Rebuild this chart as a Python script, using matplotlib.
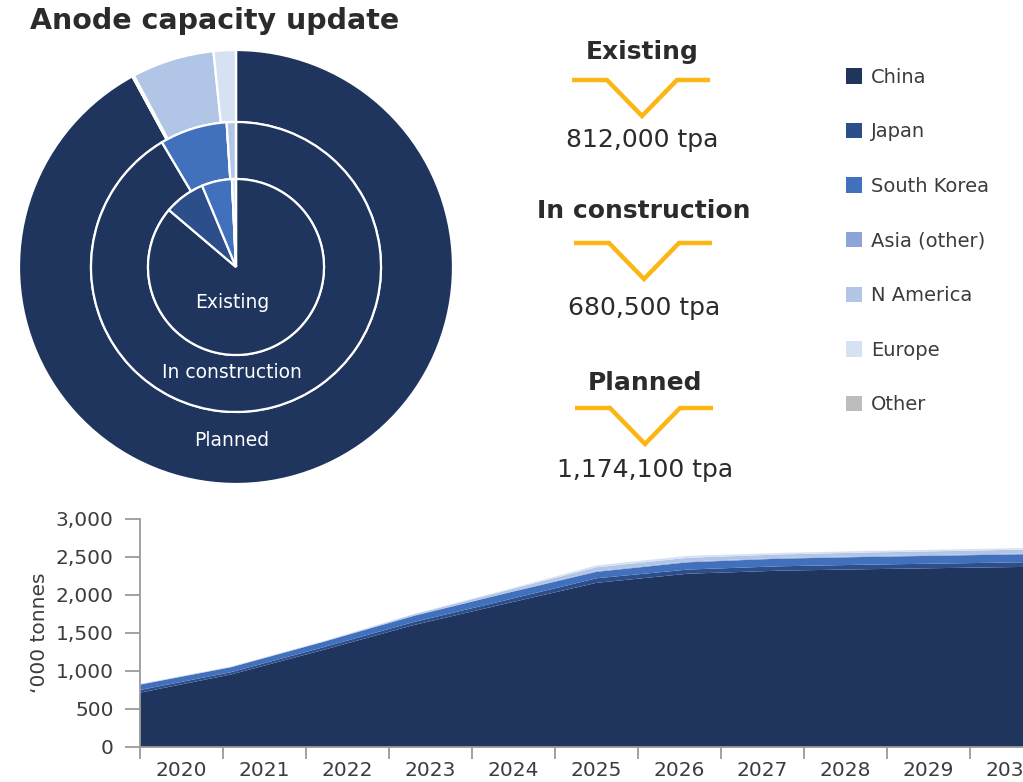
import numpy as np
import matplotlib
matplotlib.use("Agg")
import matplotlib.pyplot as plt
from matplotlib.patches import Patch
from matplotlib.ticker import FuncFormatter

plt.rcParams['font.family'] = ['DejaVu Sans']

# data
regions = ["China", "Japan", "South Korea", "Asia (other)", "N America", "Europe", "Other"]
colors = ["#1f355e", "#2c4f8c", "#4170bd", "#8ea4d8", "#b1c6e6", "#d6e2f4", "#bdbdbd"]

existing = [700000, 61000, 45000, 0, 0, 6000, 0]
in_construction = [622500, 0, 51000, 0, 7000, 0, 0]
planned = [1081100, 0, 0, 1500, 72000, 19500, 0]

stage_names = ["Existing", "In construction", "Planned"]
stage_totals = ["812,000 tpa", "680,500 tpa", "1,174,100 tpa"]

years = ["2020", "2021", "2022", "2023", "2024", "2025", "2026", "2027", "2028", "2029", "2030"]
# '000 tonnes
china = [715, 955, 1275, 1605, 1885, 2160, 2280, 2320, 2340, 2358, 2375]
japan = [35, 30, 35, 40, 45, 60, 55, 58, 60, 60, 62]
south_korea = [70, 65, 70, 80, 90, 85, 95, 100, 102, 104, 106]
asia_other = [5, 5, 5, 5, 5, 10, 10, 10, 10, 10, 10]
n_america = [0, 0, 0, 15, 30, 50, 50, 45, 48, 50, 52]
europe = [5, 5, 5, 5, 10, 25, 25, 20, 20, 20, 20]
other = [0, 0, 0, 0, 0, 0, 0, 0, 0, 0, 0]

W, H = 1023, 782
fig = plt.figure(figsize=(W / 100, H / 100), dpi=100)

def fx(px):
    return px / W

def fy(py):
    return 1 - py / H

dark = "#2b2b2b"
grey_txt = "#3c3c3c"

# title
fig.text(fx(30), fy(21), "Anode capacity update", fontsize=20.5, fontweight="bold",
         color=dark, ha="left", va="center")

# nested donut
R = 217
ax_pie = fig.add_axes([fx(236 - R), fy(267 + R), fx(2 * R), 2 * R / H])
wedge = dict(edgecolor="white", linewidth=1.6)
ax_pie.pie(planned, radius=1.0, colors=colors, startangle=90, counterclock=False,
           wedgeprops=dict(width=1.0 - 145 / R, **wedge))
ax_pie.pie(in_construction, radius=145 / R, colors=colors, startangle=90, counterclock=False,
           wedgeprops=dict(width=(145 - 88) / R, **wedge))
ax_pie.pie(existing, radius=88 / R, colors=colors, startangle=90, counterclock=False,
           wedgeprops=wedge)
ax_pie.set_xlim(-1, 1)
ax_pie.set_ylim(-1, 1)
ax_pie.set_aspect("equal")
ax_pie.axis("off")
for name, py in zip(stage_names, [302, 372, 440]):
    ax_pie.text(-4 / R, (267 - py) / R, name, color="white", fontsize=13.5,
                ha="center", va="center")

# overlay for headline numbers and chevrons
ov = fig.add_axes([0, 0, 1, 1])
ov.set_xlim(0, W)
ov.set_ylim(H, 0)
ov.axis("off")
yellow = "#fbb614"
for name, total, cx, ty, cy, vy in zip(stage_names, stage_totals,
                                       [642, 644, 645], [52, 211, 383],
                                       [80, 243, 408], [140, 308, 470]):
    ov.text(cx, ty, name, fontsize=18, fontweight="bold", color=dark, ha="center", va="center")
    ov.plot([cx - 70, cx - 35, cx, cx + 35, cx + 68], [cy, cy, cy + 36, cy, cy],
            color=yellow, lw=3.2, solid_joinstyle="miter", solid_capstyle="butt")
    ov.text(cx, vy, total, fontsize=18, color=dark, ha="center", va="center")

# legend
handles = [Patch(facecolor=c, edgecolor="none") for c in colors]
fig.legend(handles, regions, loc="upper left", bbox_to_anchor=(fx(836), fy(58)),
           frameon=False, fontsize=14, labelcolor=grey_txt, handlelength=0.85,
           handleheight=0.85, handletextpad=0.45, labelspacing=1.83, borderpad=0)

# stacked area
ax = fig.add_axes([fx(140), fy(747), fx(913), 228 / H])
idx = np.arange(len(years))
ax.stackplot(idx, china, japan, south_korea, asia_other, n_america, europe, other,
             colors=colors, linewidth=0)
ax.set_xlim(0, len(years) - 1)
ax.set_ylim(0, 3000)
ax.set_yticks([0, 500, 1000, 1500, 2000, 2500, 3000])
ax.yaxis.set_major_formatter(FuncFormatter(lambda v, p: f"{int(v):,}"))
step = (len(years) - 1) / len(years)
ax.set_xticks(np.arange(len(years) + 1) * step)
ax.set_xticklabels([])
ax.set_xticks((np.arange(len(years)) + 0.5) * step, minor=True)
ax.set_xticklabels(years, minor=True)
ax.tick_params(axis="x", which="minor", length=0, pad=10, labelsize=14.5, labelcolor=grey_txt)
ax.tick_params(axis="x", which="major", length=8.5, width=1.3, color="#9a9a9a", direction="out")
ax.tick_params(axis="y", length=11, width=1.3, color="#9a9a9a", labelsize=14.5,
               labelcolor=grey_txt, pad=8)
for s in ["top", "right"]:
    ax.spines[s].set_visible(False)
for s in ["left", "bottom"]:
    ax.spines[s].set_color("#9a9a9a")
    ax.spines[s].set_linewidth(1.3)
ax.set_ylabel("\u2018000 tonnes", fontsize=14.5, color=grey_txt, labelpad=5)

fig.savefig("out.png", dpi=100)
